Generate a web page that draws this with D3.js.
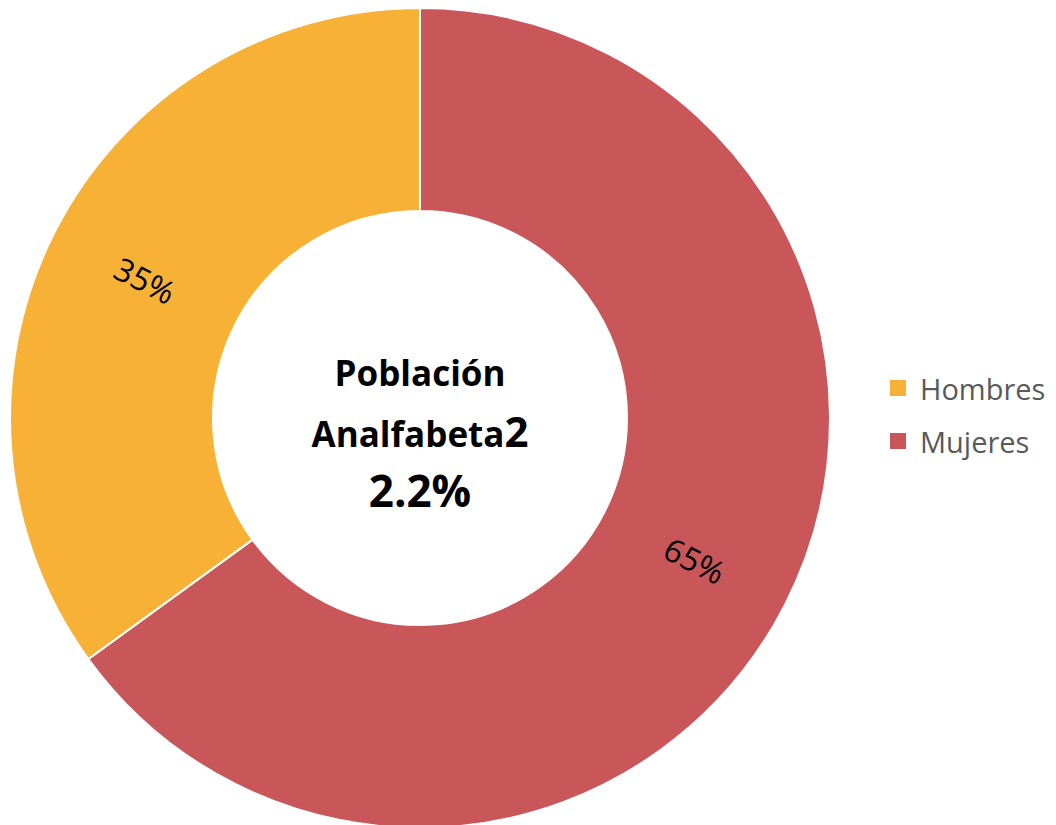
<!DOCTYPE html>
<html><head><meta charset="utf-8">
<script src="https://cdn.jsdelivr.net/npm/d3@7"></script>
<style>body{margin:0;background:#fff}svg{display:block}</style>
</head><body>
<svg id="c" width="1056" height="825"></svg>
<script>
const categories = ["Mujeres", "Hombres"];
const values = [65, 35];
const labels = ["65%", "35%"];
const legendOrder = ["Hombres", "Mujeres"];
const colors = {"Hombres": "#F7B136", "Mujeres": "#C9575A"};
const titleLines = ["Población", "Analfabeta", "2.2%"];

const svg = d3.select("#c");
const cx = 420, cy = 418, R = 410, r = 207;
const g = svg.append("g").attr("transform", `translate(${cx},${cy})`);
const pie = d3.pie().sort(null).value(d => d.v);
const data = pie(categories.map((c, i) => ({c, v: values[i], l: labels[i]})));
const arc = d3.arc().innerRadius(r).outerRadius(R);
g.selectAll("path").data(data).join("path")
  .attr("d", arc).attr("fill", d => colors[d.data.c])
  .attr("stroke", "#fff").attr("stroke-width", 2);

const rl = (r + R) / 2;
g.selectAll("text.lbl").data(data).join("text").attr("class", "lbl")
  .each(function(d) {
    const a = (d.startAngle + d.endAngle) / 2;
    const x = rl * Math.sin(a), y = -rl * Math.cos(a);
    let deg = a * 180 / Math.PI - 90;
    while (deg > 90) deg -= 180;
    while (deg < -90) deg += 180;
    d3.select(this).attr("transform", `translate(${x},${y + 2}) rotate(${deg})`);
  })
  .attr("text-anchor", "middle").attr("dominant-baseline", "central")
  .attr("font-family", "'Open Sans', sans-serif").attr("font-size", 32)
  .attr("fill", "#000").text(d => d.data.l);

// center title
const t = g.append("g").attr("font-family", "'Open Sans', sans-serif").attr("font-weight", "bold").attr("text-anchor", "middle").attr("fill", "#000");
t.append("text").attr("y", -32).attr("font-size", 35).text(titleLines[0]);
const l2 = t.append("text").attr("y", 29).attr("font-size", 35);
l2.append("tspan").text(titleLines[1]);
l2.append("tspan").attr("font-size", 42).text("2");
t.append("text").attr("y", 89).attr("font-size", 44).text(titleLines[2]);

// legend
const lg = svg.append("g").attr("transform", "translate(890,380)");
const li = lg.selectAll("g").data(legendOrder).join("g").attr("transform", (d, i) => `translate(0,${i * 53})`);
li.append("rect").attr("width", 16).attr("height", 16).attr("fill", d => colors[d]);
li.append("text").attr("x", 30).attr("y", 8).attr("dominant-baseline", "central")
  .attr("font-family", "'Open Sans', sans-serif").attr("font-size", 29).attr("fill", "#595959").text(d => d);
</script>
</body></html>
